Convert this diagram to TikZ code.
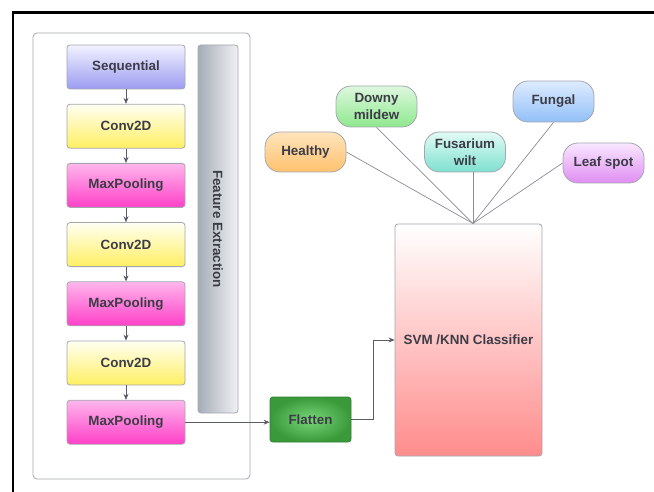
\documentclass[tikz,border=0pt]{standalone}
\usepackage{fontspec}
\setmainfont{Liberation Sans}
\usetikzlibrary{positioning,arrows.meta}

\definecolor{txtgray}{HTML}{3C3C46}
\definecolor{edgegray}{HTML}{A4A6AE}
\definecolor{linegray}{HTML}{5A5C66}
\definecolor{spokegray}{HTML}{8A8C92}
\definecolor{seqtop}{HTML}{F2F2FF}
\definecolor{seqbot}{HTML}{9C9CF2}
\definecolor{convtop}{HTML}{FFFFF2}
\definecolor{convbot}{HTML}{FFEF62}
\definecolor{pooltop}{HTML}{FFB6EC}
\definecolor{poolbot}{HTML}{FF40C8}
\definecolor{featdark}{HTML}{A6ADB8}
\definecolor{featlight}{HTML}{F0F1F3}
\definecolor{flatin}{HTML}{78D678}
\definecolor{flatout}{HTML}{3A9A3A}
\definecolor{flatedge}{HTML}{2F7F2F}
\definecolor{clfbot}{HTML}{FF8C8C}
\definecolor{healtop}{HTML}{FFE4BC}
\definecolor{healbot}{HTML}{FFC26E}
\definecolor{downtop}{HTML}{DEF8DE}
\definecolor{downbot}{HTML}{8EE88E}
\definecolor{fustop}{HTML}{E2FBF6}
\definecolor{fusbot}{HTML}{7EE0D0}
\definecolor{fungtop}{HTML}{DEEBFF}
\definecolor{fungbot}{HTML}{92C0F8}
\definecolor{spottop}{HTML}{F9E8FF}
\definecolor{spotbot}{HTML}{E08EF2}

\tikzset{
  lbl/.style={text=txtgray, font=\fontsize{13.4}{16.5}\selectfont\bfseries},
  layer/.style={lbl, draw=edgegray, line width=0.8pt, rounded corners=3pt,
    minimum width=118pt, minimum height=44pt, inner sep=0pt},
  seqbox/.style={layer, top color=seqtop, bottom color=seqbot},
  convbox/.style={layer, top color=convtop, bottom color=convbot},
  poolbox/.style={layer, top color=pooltop, bottom color=poolbot},
  leaf/.style={lbl, draw=edgegray, line width=0.8pt, rounded corners=15pt,
    minimum width=81pt, minimum height=40pt, inner sep=0pt, align=center},
  flow/.style={draw=linegray, line width=0.7pt, -{Stealth[length=6pt,width=5pt]}},
  spoke/.style={draw=spokegray, line width=0.7pt},
}

\begin{document}
\begin{tikzpicture}[x=1pt,y=-1pt]
    \useasboundingbox (0,0) rectangle (654,492);
    % page frame
    \draw[line width=2.6pt] (13,500) -- (13,12.5) -- (670,12.5);

    % feature extraction block
    \node[draw=edgegray, line width=0.8pt, rounded corners=4pt,
      minimum width=217pt, minimum height=446pt] (cnn) at (141.5,256) {};
    \node[seqbox] (seq) at (126,67) {Sequential};
    \node[convbox, below=14.4pt of seq] (conv1) {Conv2D};
    \node[poolbox, below=14.4pt of conv1] (pool1) {MaxPooling};
    \node[convbox, below=14.4pt of pool1] (conv2) {Conv2D};
    \node[poolbox, below=14.4pt of conv2] (pool2) {MaxPooling};
    \node[convbox, below=14.4pt of pool2] (conv3) {Conv2D};
    \node[poolbox, below=14.4pt of conv3] (pool3) {MaxPooling};
    \node[draw=edgegray, line width=0.8pt, rounded corners=3pt,
      left color=featdark, right color=featlight,
      minimum width=40pt, minimum height=368pt, inner sep=0pt,
      label={[lbl, rotate=-90]center:Feature Extraction}] (feat) at (218,229) {};

    \draw[flow] (seq) -- (conv1);
    \draw[flow] (conv1) -- (pool1);
    \draw[flow] (pool1) -- (conv2);
    \draw[flow] (conv2) -- (pool2);
    \draw[flow] (pool2) -- (conv3);
    \draw[flow] (conv3) -- (pool3);

    % classifier side
    \node[lbl, draw=flatedge, line width=0.8pt, rounded corners=3pt,
      inner color=flatin, outer color=flatout,
      minimum width=81pt, minimum height=45pt, inner sep=0pt] (flat) at (310.5,419.5) {Flatten};
    \node[lbl, draw=edgegray, line width=0.8pt, rounded corners=3pt,
      top color=white, bottom color=clfbot,
      minimum width=147pt, minimum height=232pt, inner sep=0pt] (clf) at (468.5,340) {SVM /KNN Classifier};

    \draw[flow] (pool3.east) -- (pool3.east -| flat.west);
    \draw[flow] (flat.east) -- ++(22,0) |- (clf.west);

    % classes
    \node[leaf, top color=healtop, bottom color=healbot] (healthy) at (305.5,152) {Healthy};
    \node[leaf, top color=downtop, bottom color=downbot, minimum height=41pt] (downy) at (376.5,106.5) {Downy\\mildew};
    \node[leaf, top color=fustop, bottom color=fusbot] (fusarium) at (465,152) {Fusarium\\wilt};
    \node[leaf, top color=fungtop, bottom color=fungbot, minimum height=41pt] (fungal) at (553.5,101.5) {Fungal};
    \node[leaf, top color=spottop, bottom color=spotbot] (spot) at (603.5,163) {Leaf spot};

    \coordinate (hub) at (473,223.5);
    \draw[spoke] (healthy.east) -- (hub);
    \draw[spoke] (downy.south) -- (hub);
    \draw[spoke] (hub |- fusarium.south) -- (hub);
    \draw[spoke] (fungal.south) -- (hub);
    \draw[spoke] (spot.west) -- (hub);
\end{tikzpicture}
\end{document}
